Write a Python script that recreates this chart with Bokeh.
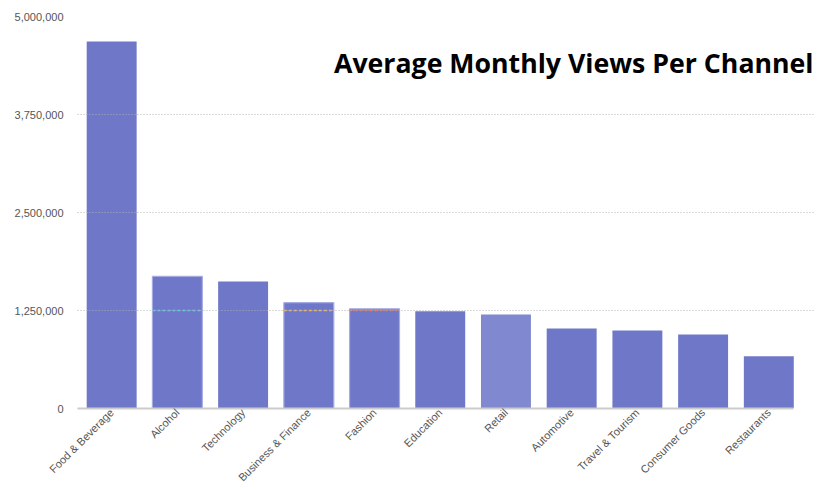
from bokeh.plotting import figure
from bokeh.models import Range1d, FixedTicker, NumeralTickFormatter, Grid, Label, ColumnDataSource
from bokeh.embed import file_html
from bokeh.resources import INLINE
import math

categories = ["Food & Beverage", "Alcohol", "Technology", "Business & Finance", "Fashion",
              "Education", "Retail", "Automotive", "Travel & Tourism", "Consumer Goods", "Restaurants"]
views = [4680000, 1685000, 1620000, 1350000, 1272000, 1241000, 1200000, 1020000, 995000, 944000, 665000]
y_ticks = [0, 1250000, 2500000, 3750000, 5000000]
title_text = "Average Monthly Views Per Channel"

# thin coloured dashes seen across some bars at the 1,250,000 level
marker_cats = ["Alcohol", "Business & Finance", "Fashion"]
marker_values = [1250000, 1250000, 1250000]
marker_colors = ["#5cc6f0", "#eab464", "#e4735a"]
outlined_cats = ["Alcohol", "Business & Finance", "Fashion"]

idx = list(range(len(categories)))
bar_w = 0.76
colors = ["#8088cf" if c == "Retail" else "#6f78c8" for c in categories]
line_colors = ["#a6abe2" if c in outlined_cats else None for c in categories]
src = ColumnDataSource(dict(x=idx, top=views, color=colors, lc=line_colors, name=categories))

m_idx = [categories.index(c) for c in marker_cats]
msrc = ColumnDataSource(dict(x0=[i - bar_w / 2 for i in m_idx], x1=[i + bar_w / 2 for i in m_idx],
                             y=marker_values, color=marker_colors))

p = figure(width=833, height=490, output_backend="svg", toolbar_location=None,
           x_range=Range1d(-0.52, 10.68), y_range=Range1d(0, 5000000),
           min_border_left=77, min_border_right=20, min_border_top=16, min_border_bottom=82)
p.outline_line_color = None
p.background_fill_color = "white"
p.border_fill_color = "white"

p.vbar(x="x", top="top", width=bar_w, fill_color="color", line_color="lc", line_width=1.2, source=src)

# x axis
p.xaxis.ticker = FixedTicker(ticks=idx)
p.xaxis.major_label_overrides = {i: c for i, c in zip(idx, categories)}
p.xaxis.major_label_orientation = math.pi / 4
p.xaxis.major_label_text_font = "Liberation Sans"
p.xaxis.major_label_text_font_size = "11px"
p.xaxis.major_label_text_color = "#555555"
p.xaxis.major_tick_line_color = None
p.xaxis.minor_tick_line_color = None
p.xaxis.major_tick_out = 0
p.xaxis.major_tick_in = 0
p.xaxis.major_label_standoff = 2
p.xaxis.axis_line_color = "#cccccc"
p.xaxis.axis_line_width = 2
p.xaxis.bounds = (-0.52, 10.38)

# y axis
p.yaxis.ticker = FixedTicker(ticks=y_ticks)
p.yaxis.formatter = NumeralTickFormatter(format="0,0")
p.yaxis.major_label_text_font = "Liberation Sans"
p.yaxis.major_label_text_font_size = "11px"
p.yaxis.major_label_text_color = "#555555"
p.yaxis.axis_line_color = None
p.yaxis.major_tick_line_color = None
p.yaxis.minor_tick_line_color = None
p.yaxis.major_tick_out = 0
p.yaxis.major_tick_in = 0
p.yaxis.major_label_standoff = 14

p.xgrid.visible = False
p.ygrid.ticker = FixedTicker(ticks=y_ticks[1:4])
p.ygrid.grid_line_color = "#b0b0b0"
p.ygrid.grid_line_dash = "1 2"
p.ygrid.grid_line_alpha = 0.9
p.ygrid.level = "overlay"

top_grid = Grid(dimension=1, ticker=FixedTicker(ticks=[y_ticks[-1]]),
                grid_line_color="#aaaaaa", grid_line_dash="3 3", level="overlay")
p.add_layout(top_grid)

p.segment(x0="x0", x1="x1", y0="y", y1="y", line_color="color", line_width=1.3,
          line_dash="3 2", source=msrc, level="overlay")

title = Label(x=10.68, y=5000000, x_units="data", y_units="data", text=title_text,
              text_align="right", text_baseline="top", y_offset=-27,
              text_font="Open Sans", text_font_style="bold", text_font_size="26.7px",
              text_color="#000000")
p.add_layout(title)

open("out.html", "w").write(file_html(p, INLINE))
